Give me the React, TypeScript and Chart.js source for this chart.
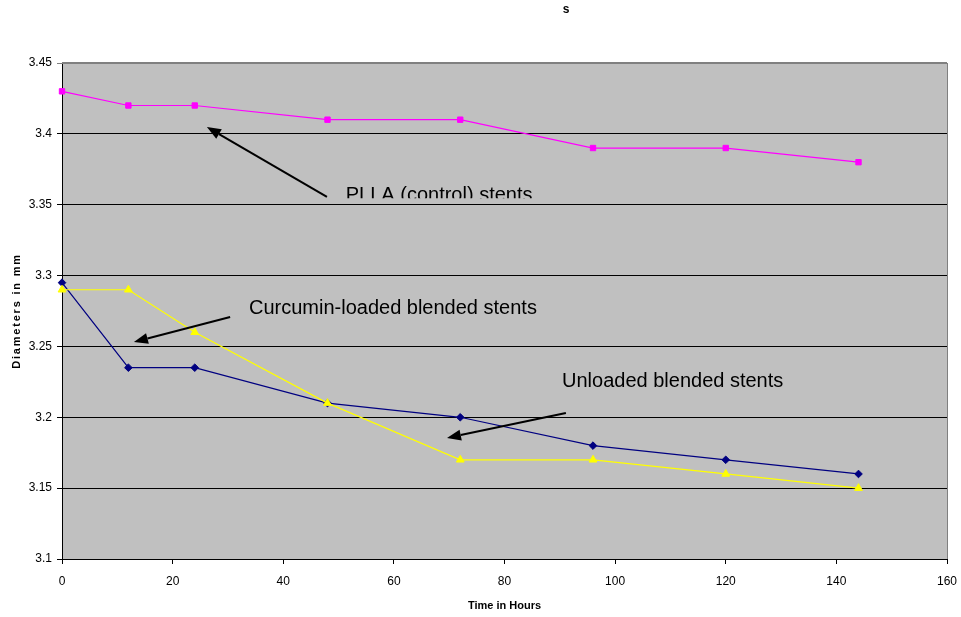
import React, { useEffect, useRef } from "react";
import { Chart, registerables } from "chart.js";

Chart.register(...registerables);

// Sampling times (hours) and measured stent diameters (mm)
const hours = [0, 12, 24, 48, 72, 96, 120, 144];
const curcuminDiam = [3.295, 3.235, 3.235, 3.21, 3.2, 3.18, 3.17, 3.16];
const pllaDiam = [3.43, 3.42, 3.42, 3.41, 3.41, 3.39, 3.39, 3.38];
const unloadedDiam = [3.29, 3.29, 3.26, 3.21, 3.17, 3.17, 3.16, 3.15];

const xTitle = "Time in Hours";
const yTitle = "Diameters in mm";
const chartTitle = "s";

// Callout labels with arrows, given in data coordinates (hours, mm)
const callouts = [
  { text: "PLLA (control) stents", tx: 51.3, ty: 3.3526, clipY: 3.3545, from: [47.9, 3.3555], to: [26.2, 3.4048] },
  { text: "Curcumin-loaded blended stents", tx: 33.8, ty: 3.2729, clipY: null, from: [30.4, 3.2708], to: [13.0, 3.2531] },
  { text: "Unloaded blended stents", tx: 90.4, ty: 3.2214, clipY: null, from: [91.1, 3.203], to: [69.6, 3.1854] },
];

const FONT = "'Liberation Sans', Arial, sans-serif";

function drawArrow(ctx: CanvasRenderingContext2D, x1: number, y1: number, x2: number, y2: number) {
  const ang = Math.atan2(y2 - y1, x2 - x1);
  const headLen = 14;
  const headHalf = 5.5;
  const bx = x2 - headLen * Math.cos(ang);
  const by = y2 - headLen * Math.sin(ang);
  ctx.save();
  ctx.strokeStyle = "#000";
  ctx.fillStyle = "#000";
  ctx.lineWidth = 2;
  ctx.beginPath();
  ctx.moveTo(x1, y1);
  ctx.lineTo(bx, by);
  ctx.stroke();
  ctx.beginPath();
  ctx.moveTo(x2, y2);
  ctx.lineTo(bx + headHalf * Math.sin(ang), by - headHalf * Math.cos(ang));
  ctx.lineTo(bx - headHalf * Math.sin(ang), by + headHalf * Math.cos(ang));
  ctx.closePath();
  ctx.fill();
  ctx.restore();
}

const plotDecor = {
  id: "plotDecor",
  beforeDraw(chart: any) {
    const { ctx, chartArea: a } = chart;
    ctx.save();
    ctx.fillStyle = "#ffffff";
    ctx.fillRect(0, 0, chart.width, chart.height);
    ctx.fillStyle = "#c0c0c0";
    ctx.fillRect(a.left, a.top, a.right - a.left, a.bottom - a.top);
    ctx.restore();
  },
  afterDatasetsDraw(chart: any) {
    const { ctx, chartArea: a, scales } = chart;
    const xs = scales.x;
    const ys = scales.y;
    ctx.save();
    // top and right frame of the plot area
    ctx.strokeStyle = "#808080";
    ctx.lineWidth = 2;
    ctx.beginPath();
    ctx.moveTo(a.left, a.top);
    ctx.lineTo(a.right, a.top);
    ctx.stroke();
    ctx.lineWidth = 1;
    ctx.beginPath();
    ctx.moveTo(a.right + 0.5, a.top);
    ctx.lineTo(a.right + 0.5, a.bottom);
    ctx.stroke();

    // callouts
    for (const c of callouts) {
      drawArrow(
        ctx,
        xs.getPixelForValue(c.from[0]),
        ys.getPixelForValue(c.from[1]),
        xs.getPixelForValue(c.to[0]),
        ys.getPixelForValue(c.to[1])
      );
      ctx.save();
      if (c.clipY !== null) {
        const cy = ys.getPixelForValue(c.clipY);
        ctx.beginPath();
        ctx.rect(0, 0, chart.width, cy);
        ctx.clip();
      }
      ctx.fillStyle = "#000";
      ctx.font = `20px ${FONT}`;
      ctx.textAlign = "left";
      ctx.textBaseline = "alphabetic";
      ctx.fillText(c.text, xs.getPixelForValue(c.tx), ys.getPixelForValue(c.ty));
      ctx.restore();
    }

    // axis titles
    ctx.fillStyle = "#000";
    ctx.font = `bold 11px ${FONT}`;
    ctx.textAlign = "center";
    ctx.textBaseline = "middle";
    ctx.fillText(xTitle, (a.left + a.right) / 2, 606);
    ctx.save();
    ctx.translate(17, (a.top + a.bottom) / 2);
    ctx.rotate(-Math.PI / 2);
    (ctx as any).letterSpacing = "1.8px";
    ctx.fillText(yTitle, 0, 0);
    ctx.restore();

    // chart title
    ctx.font = `bold 12px ${FONT}`;
    ctx.fillText(chartTitle, 566, 10);
    ctx.restore();
  },
};

export default function App() {
  const ref = useRef<HTMLCanvasElement | null>(null);

  useEffect(() => {
    if (!ref.current) return;
    const chart = new Chart(ref.current, {
      type: "line",
      data: {
        datasets: [
          {
            label: "Curcumin-loaded blended stents",
            data: hours.map((h, i) => ({ x: h, y: curcuminDiam[i] })),
            borderColor: "#000080",
            backgroundColor: "#000080",
            borderWidth: 1.2,
            pointStyle: "rectRot",
            pointRadius: 3.8,
            pointBorderWidth: 1,
            order: 3,
          },
          {
            label: "PLLA (control) stents",
            data: hours.map((h, i) => ({ x: h, y: pllaDiam[i] })),
            borderColor: "#ff00ff",
            backgroundColor: "#ff00ff",
            borderWidth: 1.2,
            pointStyle: "rect",
            pointRadius: 3.8,
            pointBorderWidth: 1,
            order: 2,
          },
          {
            label: "Unloaded blended stents",
            data: hours.map((h, i) => ({ x: h, y: unloadedDiam[i] })),
            borderColor: "#ffff00",
            backgroundColor: "#ffff00",
            borderWidth: 1.2,
            pointStyle: "triangle",
            pointRadius: 4.5,
            pointBorderWidth: 1,
            order: 1,
          },
        ],
      },
      options: {
        responsive: false,
        animation: false,
        clip: false,
        layout: { padding: { top: 63, right: 14, left: 0, bottom: 0 } },
        plugins: {
          legend: { display: false },
          tooltip: { enabled: false },
          title: { display: false },
        },
        elements: { line: { tension: 0 } },
        scales: {
          x: {
            type: "linear",
            min: 0,
            max: 160,
            ticks: {
              stepSize: 20,
              color: "#000",
              font: { family: FONT, size: 12 },
              padding: 10,
              maxRotation: 0,
            },
            grid: {
              drawOnChartArea: false,
              drawTicks: true,
              tickLength: 5,
              color: "#000",
            },
            border: { color: "#000", width: 1 },
            afterFit: (s: any) => {
              s.height = 58;
              s.paddingLeft = 0;
              s.paddingRight = 0;
            },
          },
          y: {
            min: 3.1,
            max: 3.45,
            ticks: {
              stepSize: 0.05,
              color: "#000",
              font: { family: FONT, size: 12 },
              padding: 5,
              callback: (v: any) => String(Number(Number(v).toFixed(2))),
            },
            grid: {
              tickLength: 5,
              color: (c: any) => (c.tick && Math.abs(c.tick.value - 3.45) < 1e-6 ? "#808080" : "#000"),
              lineWidth: 1,
            },
            border: { color: "#000", width: 1 },
            afterFit: (s: any) => {
              s.width = 62;
              s.paddingTop = 0;
              s.paddingBottom = 0;
            },
          },
        },
      },
      plugins: [plotDecor],
    });
    return () => chart.destroy();
  }, []);

  return (
    <div style={{ position: "fixed", left: 0, top: 0, width: 961, height: 617, background: "#fff" }}>
      <canvas ref={ref} width={961} height={617} style={{ width: 961, height: 617, display: "block" }} />
    </div>
  );
}
